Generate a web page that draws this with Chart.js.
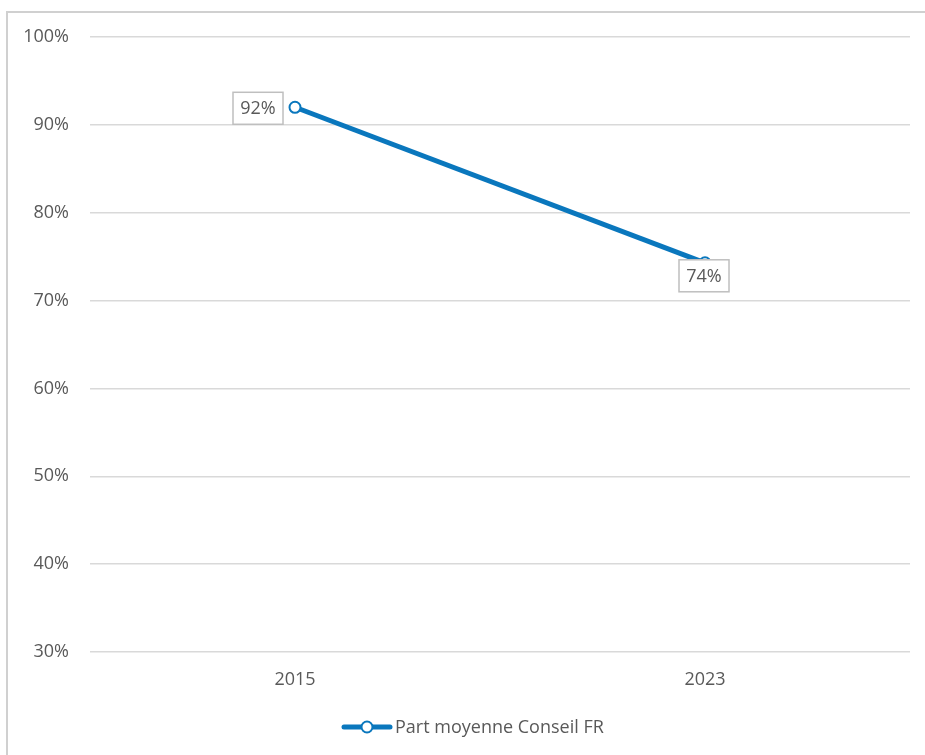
<!DOCTYPE html>
<html>
<head>
<meta charset="utf-8">
<script src="https://cdn.jsdelivr.net/npm/chart.js@4"></script>
<style>
  html, body { margin: 0; padding: 0; background: #fff; }
  #wrap { position: relative; width: 925px; height: 755px; overflow: hidden; }
  #frame { position: absolute; left: 6px; top: 11px; width: 940px; height: 760px;
           border-left: 2px solid #d0d0d0; border-top: 2px solid #d0d0d0; box-sizing: border-box; }
  canvas { position: absolute; left: 0; top: 0; }
</style>
</head>
<body>
<div id="wrap">
  <div id="frame"></div>
  <canvas id="lineChart" width="925" height="755"></canvas>
</div>
<script>
// Chart data
const years = ['2015', '2023'];
const partConseil = [92, 74.3];
const valueLabels = ['92%', '74%'];
const seriesName = 'Part moyenne Conseil FR';

const blue = '#0a77bd';
const textGrey = '#595959';
const fontFamily = '"Open Sans", sans-serif';

// Draws the boxed value labels and the legend at the bottom
const labelsPlugin = {
    id: 'labelsPlugin',
    afterDatasetsDraw(chart) {
        const ctx = chart.ctx;
        const meta = chart.getDatasetMeta(0);
        ctx.save();
        ctx.font = '18px ' + fontFamily;
        ctx.textAlign = 'center';
        ctx.textBaseline = 'middle';
        meta.data.forEach(function (pt, i) {
            let cx, cy;
            if (i === 0) { cx = pt.x - 37; cy = pt.y + 1; }   // left of the point
            else { cx = pt.x - 1; cy = pt.y + 13; }          // below the point
            const w = 50, h = 32;
            ctx.fillStyle = '#fff';
            ctx.fillRect(cx - w / 2, cy - h / 2, w, h);
            ctx.strokeStyle = '#bfbfbf';
            ctx.lineWidth = 1.5;
            ctx.strokeRect(cx - w / 2, cy - h / 2, w, h);
            ctx.fillStyle = textGrey;
            ctx.fillText(valueLabels[i], cx, cy + 1);
        });

        // legend
        const ly = 727;
        ctx.strokeStyle = blue;
        ctx.lineWidth = 5;
        ctx.lineCap = 'round';
        ctx.beginPath();
        ctx.moveTo(344, ly);
        ctx.lineTo(390, ly);
        ctx.stroke();
        ctx.beginPath();
        ctx.arc(367, ly, 5.5, 0, Math.PI * 2);
        ctx.fillStyle = '#fff';
        ctx.fill();
        ctx.lineWidth = 2;
        ctx.stroke();
        ctx.fillStyle = textGrey;
        ctx.textAlign = 'left';
        ctx.fillText(seriesName, 395, ly + 1);
        ctx.restore();
    }
};

new Chart(document.getElementById('lineChart').getContext('2d'), {
    type: 'line',
    data: {
        labels: years,
        datasets: [{
            label: seriesName,
            data: partConseil,
            borderColor: blue,
            borderWidth: 5,
            pointRadius: 5.5,
            pointBorderWidth: 2,
            pointBackgroundColor: '#fff',
            pointBorderColor: blue,
            tension: 0
        }]
    },
    options: {
        responsive: false,
        animation: false,
        layout: { padding: { left: 0, right: 15, top: 37, bottom: 53 } },
        plugins: {
            legend: { display: false },
            tooltip: { enabled: false }
        },
        scales: {
            x: {
                offset: true,
                grid: { display: false, drawTicks: false },
                border: { display: false },
                ticks: { color: textGrey, font: { family: fontFamily, size: 18 }, padding: 17 },
                afterFit: function (scale) { scale.height = 50; }
            },
            y: {
                min: 30,
                max: 100,
                grid: { color: '#d9d9d9', lineWidth: 1.5, drawTicks: false },
                border: { display: false },
                ticks: {
                    stepSize: 10,
                    padding: 21,
                    color: textGrey,
                    font: { family: fontFamily, size: 18 },
                    callback: function (v) { return v + '%'; }
                },
                afterFit: function (scale) { scale.width = 90; }
            }
        }
    },
    plugins: [labelsPlugin]
});
</script>
</body>
</html>
